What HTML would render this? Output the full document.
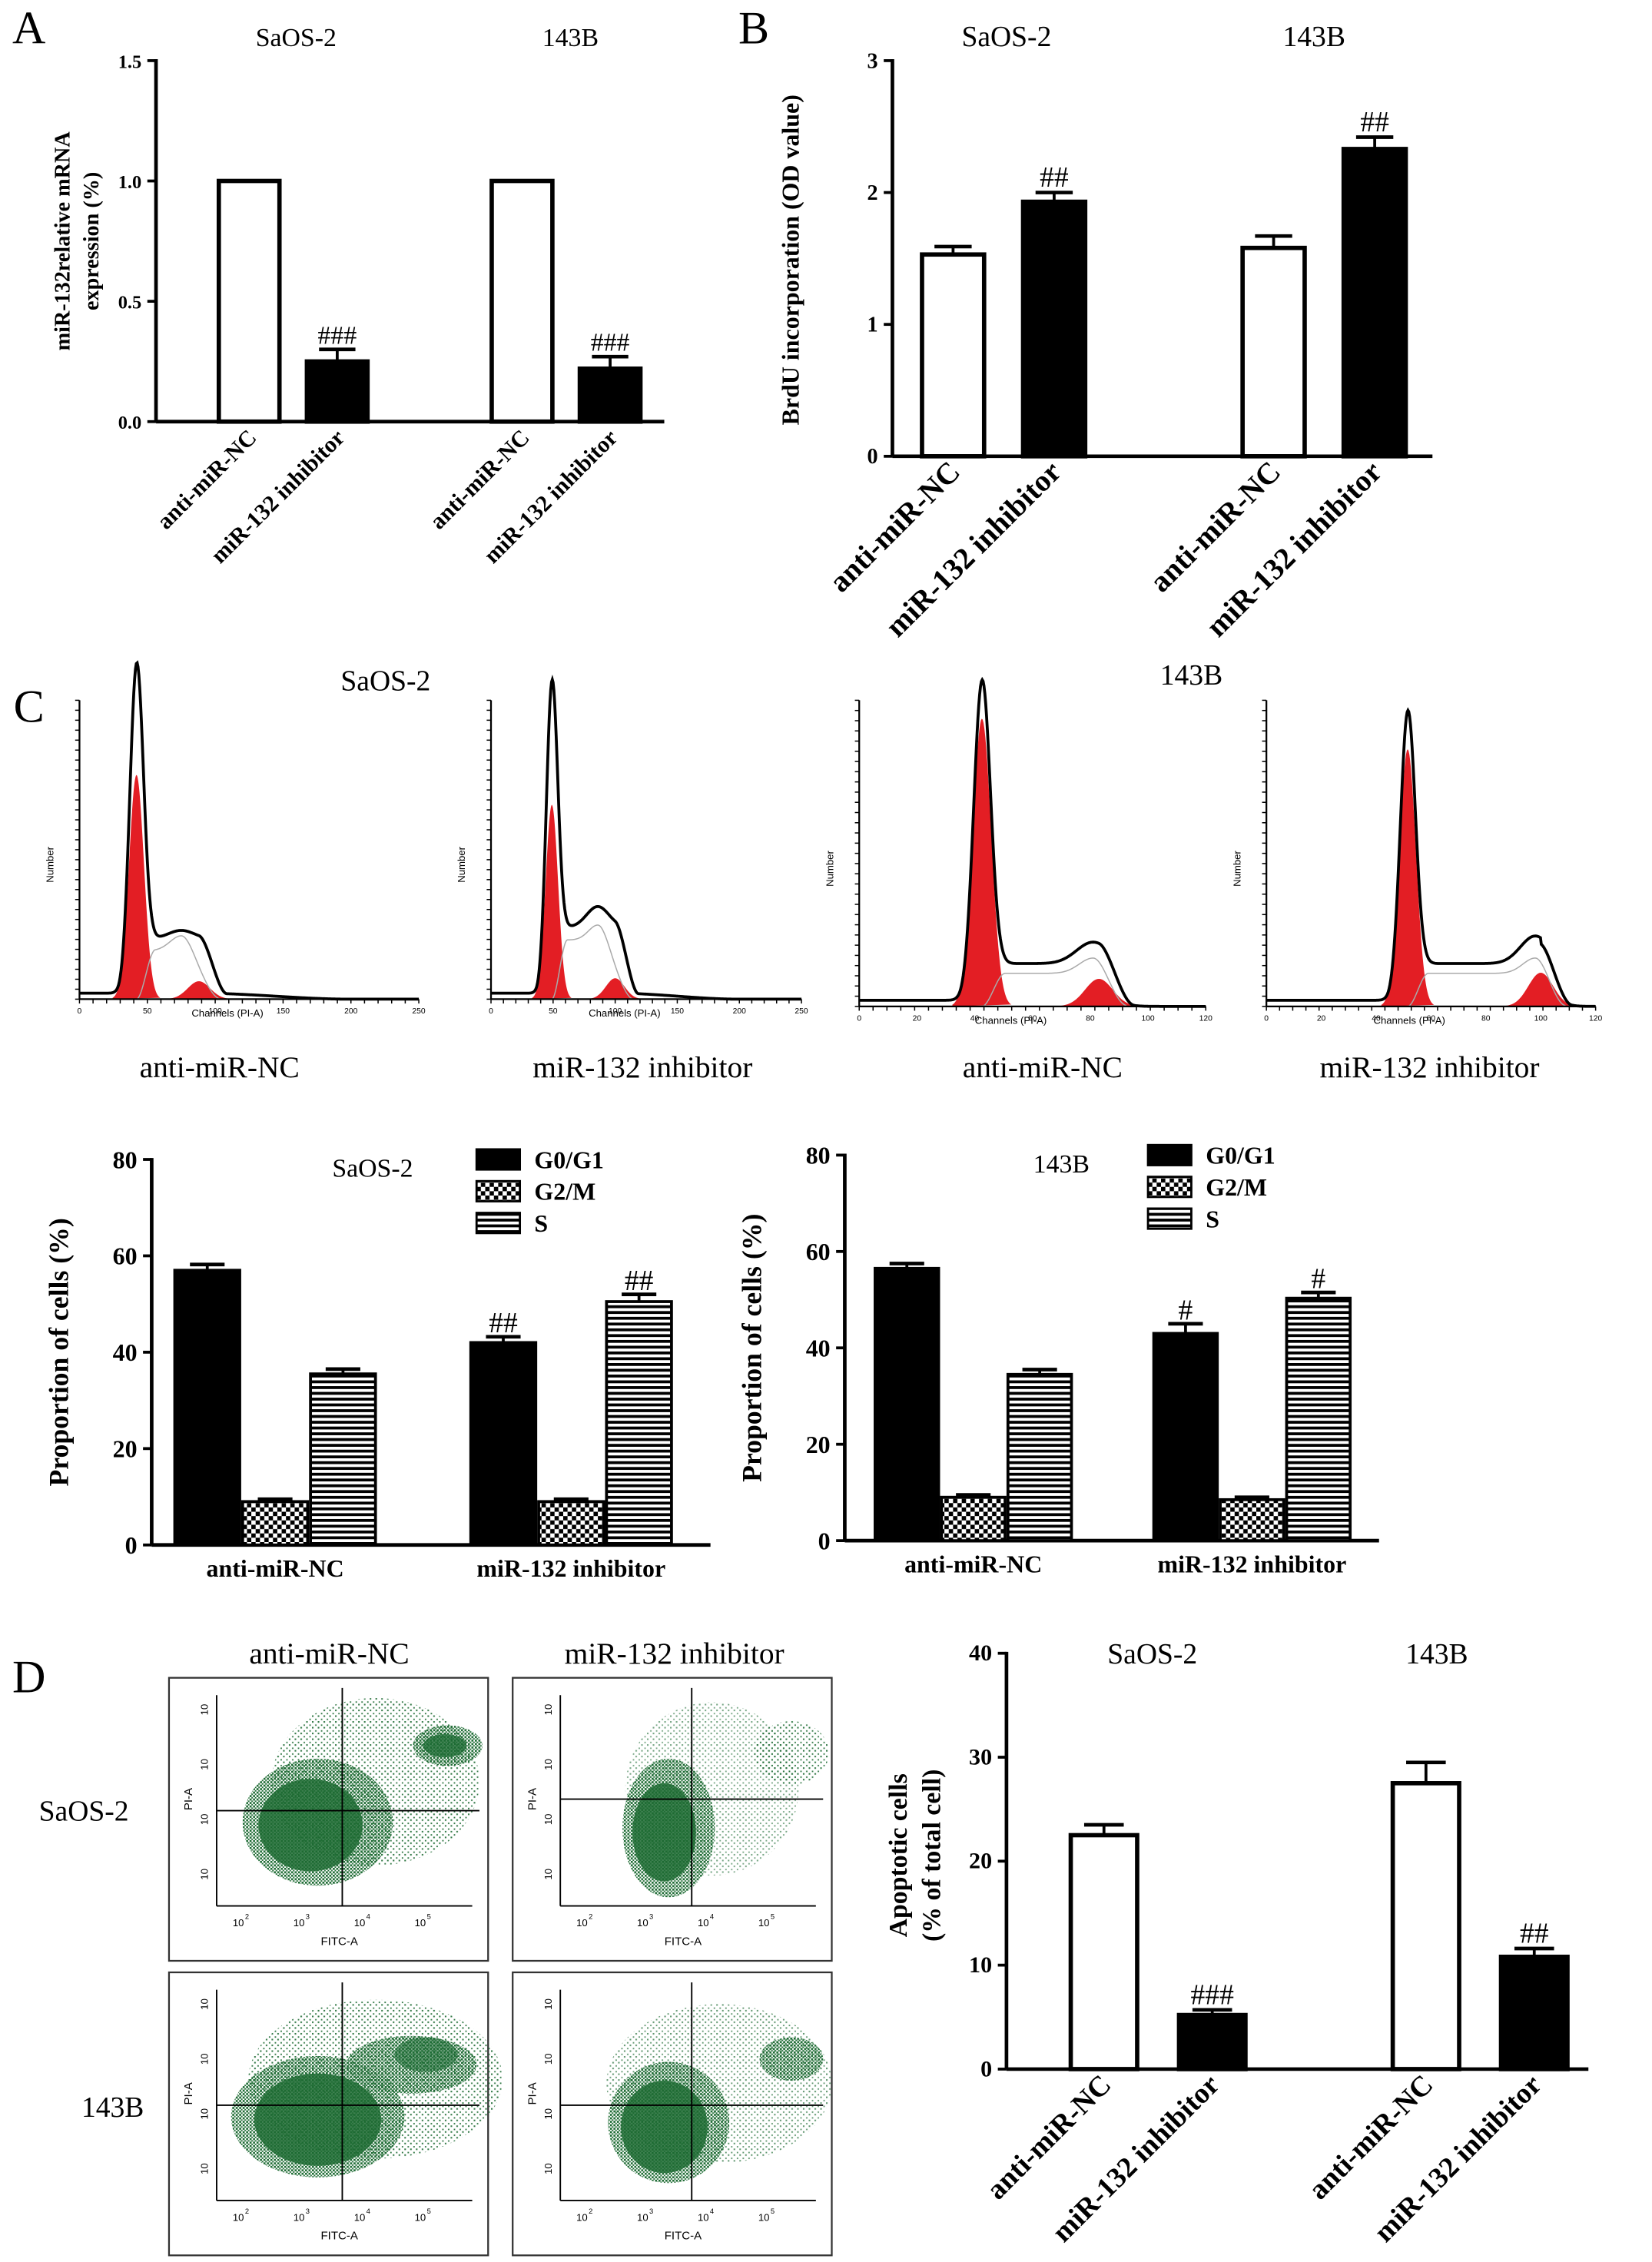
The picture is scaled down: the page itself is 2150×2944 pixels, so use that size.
<!DOCTYPE html>
<html><head><meta charset="utf-8">
<style>
html,body{margin:0;padding:0;background:#fff;}
svg{display:block;}
text{font-family:"Liberation Serif",serif;}
</style></head>
<body>
<svg id="fig" width="2150" height="2944" viewBox="0 0 1144 1566.6" xmlns="http://www.w3.org/2000/svg">
<defs>
<pattern id="dots" width="2.4" height="2.4" patternUnits="userSpaceOnUse"><rect x="0" y="0" width="1.4" height="1.4" fill="#1d6b33"/><rect x="1.3" y="1.4" width="1" height="1" fill="#1d6b33"/></pattern>
<pattern id="dotsSparse" width="4" height="4" patternUnits="userSpaceOnUse"><rect x="0" y="0" width="1.1" height="1.1" fill="#1d6b33"/><rect x="2.2" y="2.3" width="1" height="1" fill="#1d6b33"/></pattern>
<pattern id="check" width="6" height="6" patternUnits="userSpaceOnUse"><rect width="6" height="6" fill="#fff"/><rect width="3" height="3" fill="#000"/><rect x="3" y="3" width="3" height="3" fill="#000"/></pattern>
<pattern id="hstripe" width="6" height="4" patternUnits="userSpaceOnUse"><rect width="6" height="4" fill="#fff"/><rect width="6" height="2" fill="#000"/></pattern>
</defs>
<g id="root"></g>
</svg>
<script>
// ---------- Panel A data ----------
const aCats = ["anti-miR-NC","miR-132 inhibitor","anti-miR-NC","miR-132 inhibitor"];
const aVals = [1.0, 0.25, 1.0, 0.22];
const aErrs = [0, 0.05, 0, 0.05];
const aMarks = ["", "###", "", "###"];
const aTicks = [0, 0.5, 1.0, 1.5];
const aTickLabels = ["0.0","0.5","1.0","1.5"];
// ---------- Panel B data ----------
const bCats = ["anti-miR-NC","miR-132 inhibitor","anti-miR-NC","miR-132 inhibitor"];
const bVals = [1.53, 1.93, 1.58, 2.33];
const bErrs = [0.06, 0.07, 0.09, 0.09];
const bMarks = ["", "##", "", "##"];
const bTicks = [0,1,2,3];
// ---------- Panel C cell-cycle bars ----------
const cGroups = ["anti-miR-NC","miR-132 inhibitor"];
const cPhases = ["G0/G1","G2/M","S"];
const cSaosVals = [[57,9,35.5],[42,9,50.5]];
const cSaosErrs = [[1.2,0.5,1],[1.2,0.5,1.5]];
const cSaosMarks = [["","",""],["##","","##"]];
const c143Vals = [[56.5,9,34.5],[43,8.5,50.3]];
const c143Errs = [[1,0.5,1],[2,0.5,1.2]];
const c143Marks = [["","",""],["#","","#"]];
const cTicks = [0,20,40,60,80];
// ---------- Panel C histograms (channel units, fraction of y max) ----------
const hG1Ch = [42, 49, 42.5, 51.5];
const hG1Sig = [5.5, 5, 3.2, 3];
const hG1Black = [0.96, 0.87, 0.95, 0.85];
const hG1Red = [0.75, 0.65, 0.94, 0.84];
const hHumpCh = [75, 86, 81, 98];
const hHumpH = [0.21, 0.29, 0.19, 0.21];
const hSLevel = [0.18, 0.22, 0.12, 0.12];
const hG2Ch = [88, 100, 83, 100];
const hG2Red = [0.06, 0.07, 0.09, 0.11];
const hChMax = [250, 250, 120, 120];
// ---------- Panel D apoptosis ----------
const dCats = ["anti-miR-NC","miR-132 inhibitor","anti-miR-NC","miR-132 inhibitor"];
const dVals = [22.5, 5.2, 27.5, 10.8];
const dErrs = [1.0, 0.5, 2.0, 0.8];
const dMarks = ["", "###", "", "##"];
const dTicks = [0,10,20,30,40];

const NS = "http://www.w3.org/2000/svg";
const root = document.getElementById("root");
function mk(tag, name, attrs, parent){
  const e = document.createElementNS(NS, tag);
  
  
  for (const k in attrs) e.setAttribute(k, attrs[k]);
  (parent||root).appendChild(e);
  return e;
}
function txt(name, s, x, y, size, opts){
  opts = opts||{};
  const t = mk("text", name, {x:x, y:y, "font-size":size, "text-anchor":opts.anchor||"middle", fill:opts.fill||"#000"}, opts.parent);
  if (opts.bold) t.setAttribute("font-weight","bold");
  if (opts.sans) t.setAttribute("style","font-family:'Liberation Sans',sans-serif");
  if (opts.rot!==undefined) t.setAttribute("transform","rotate("+opts.rot+" "+x+" "+y+")");
  t.textContent = s;
  return t;
}
function line(name,x1,y1,x2,y2,w,c){ return mk("line",name,{x1:x1,y1:y1,x2:x2,y2:y2,stroke:c||"#000","stroke-width":w||2}); }

function simpleChart(cfg){
  const sy = v => cfg.y0 - (v - cfg.ticks[0])/(cfg.ticks[cfg.ticks.length-1]-cfg.ticks[0])*(cfg.y0-cfg.yTop);
  line(cfg.id+"-y-axis", cfg.x0, cfg.yTop-1, cfg.x0, cfg.y0, 2.5);
  line(cfg.id+"-x-axis", cfg.x0, cfg.y0, cfg.xEnd, cfg.y0, 2.5);
  cfg.ticks.forEach((t,i)=>{
    line(cfg.id+"-y-tick", cfg.x0-6, sy(t), cfg.x0, sy(t), 2);
    txt(cfg.id+"-y-tick-label", cfg.tickLabels?cfg.tickLabels[i]:String(t), cfg.x0-10, sy(t)+5, cfg.tickSize, {anchor:"end", bold:true});
  });
  cfg.vals.forEach((v,i)=>{
    const x = cfg.barX[i], w = cfg.barW, top = sy(v);
    const filled = i%2===1;
    mk("rect", cfg.id+"-bar-"+i, {x:x+1.5, y:top, width:w-3, height:cfg.y0-top, fill:filled?"#000":"#fff", stroke:"#000", "stroke-width":3});
    if (cfg.errs[i]>0){
      const ey = sy(v+cfg.errs[i]);
      line(cfg.id+"-error-bar", x+w/2, top, x+w/2, ey, 2);
      line(cfg.id+"-error-cap", x+w/2-w*0.28, ey, x+w/2+w*0.28, ey, 2.5);
    }
    if (cfg.marks[i]) txt(cfg.id+"-significance", cfg.marks[i], x+w/2, sy(v+cfg.errs[i])-4, cfg.markSize);
    const cx = x+w/2+6, cy = cfg.y0+12;
    txt(cfg.id+"-x-label", cfg.cats[i], cx, cy, cfg.labSize, {anchor:"end", bold:true, rot:-45});
  });
  cfg.titles.forEach(t=> txt(cfg.id+"-title", t[0], t[1], t[2], cfg.titleSize));
  cfg.ylab.forEach(l=> txt(cfg.id+"-y-axis-title", l[0], l[1], l[2], cfg.ylabSize, {bold:true, rot:-90}));
}

txt("panel-label-a","A",20,30,32,{});
txt("panel-label-b","B",522,30,32,{});
txt("panel-label-c","C",20,500,32,{});
txt("panel-label-d","D",20,1172,32,{});

simpleChart({id:"panel-a", x0:108, y0:292, yTop:42, xEnd:460, ticks:aTicks, tickLabels:aTickLabels, vals:aVals, errs:aErrs, marks:aMarks, cats:aCats,
  barX:[150,211,339,400], barW:45, tickSize:13, markSize:18, labSize:16, titleSize:18,
  titles:[["SaOS-2",205,32],["143B",395,32]], ylab:[["miR-132relative mRNA",48,167],["expression (%)",68,167]], ylabSize:15});
simpleChart({id:"panel-b", x0:618, y0:316, yTop:42, xEnd:992, ticks:bTicks, vals:bVals, errs:bErrs, marks:bMarks, cats:bCats,
  barX:[637,707,859,929], barW:46, tickSize:15, markSize:20, labSize:21, titleSize:20,
  titles:[["SaOS-2",697,32],["143B",910,32]], ylab:[["BrdU incorporation (OD value)",553,180]], ylabSize:17});
simpleChart({id:"panel-d", x0:697, y0:1433, yTop:1145, xEnd:1100, ticks:dTicks, vals:dVals, errs:dErrs, marks:dMarks, cats:dCats,
  barX:[740,815,963,1038], barW:49, tickSize:16, markSize:20, labSize:20, titleSize:20,
  titles:[["SaOS-2",798,1152],["143B",995,1152]], ylab:[["Apoptotic cells",628,1285],["(% of total cell)",651,1285]], ylabSize:18});

// ---------- histograms ----------
const hBoxes = [[55,290,692,485],[340,555,692,485],[595,835,697,485],[877,1105,697,485]];
function gauss(x,m,s){ return Math.exp(-0.5*((x-m)/s)*((x-m)/s)); }
function smoothStep(x,a,b){ if(x<=a) return 0; if(x>=b) return 1; const t=(x-a)/(b-a); return t*t*(3-2*t); }
hBoxes.forEach((b,i)=>{
  const [x0,x1,base,top] = b;
  const sx = c => x0 + c/hChMax[i]*(x1-x0);
  const sy = f => base - f*(base-top);
  const g2s = hG1Sig[i]*1.5;
  const black = c => hG1Black[i]*gauss(c,hG1Ch[i],hG1Sig[i]*0.9)
     + hSLevel[i]*smoothStep(c,hG1Ch[i]-hG1Sig[i]*2.5,hG1Ch[i]+hG1Sig[i])*(1-smoothStep(c,hG2Ch[i],hG2Ch[i]+g2s*2.5))
     + (hHumpH[i]-hSLevel[i])*gauss(c,hHumpCh[i],g2s*1.2)
     + 0.02*(1-smoothStep(c,hG2Ch[i],hChMax[i]*0.8));
  const g = mk("g","histogram-"+(i+1),{});
  let p1="M"+sx(hG1Ch[i]-hG1Sig[i]*3.2)+","+base, p2="M"+sx(hG2Ch[i]-g2s*3)+","+base;
  for(let c=hG1Ch[i]-hG1Sig[i]*3.2;c<=hG1Ch[i]+hG1Sig[i]*3.2;c+=0.3) p1+=" L"+sx(c).toFixed(2)+","+sy(hG1Red[i]*gauss(c,hG1Ch[i],hG1Sig[i])).toFixed(2);
  for(let c=hG2Ch[i]-g2s*3;c<=hG2Ch[i]+g2s*3;c+=0.5) p2+=" L"+sx(c).toFixed(2)+","+sy(hG2Red[i]*gauss(c,hG2Ch[i],g2s)).toFixed(2);
  mk("path","g1-peak-fill",{d:p1+" Z",fill:"#e31e24"},g);
  mk("path","g2-peak-fill",{d:p2+" Z",fill:"#e31e24"},g);
  let ps="M"+sx(hG1Ch[i])+","+base;
  for(let c=hG1Ch[i];c<=hG2Ch[i]+g2s*2;c+=0.5) ps+=" L"+sx(c).toFixed(2)+","+sy(hSLevel[i]*0.9*smoothStep(c,hG1Ch[i],hG1Ch[i]+hG1Sig[i]*2.5)*(1-smoothStep(c,hHumpCh[i],hG2Ch[i]+g2s*2))+0.05*gauss(c,hHumpCh[i],g2s)).toFixed(2);
  mk("path","s-phase-model",{d:ps,fill:"none",stroke:"#aaa","stroke-width":0.8},g);
  let pb="";
  for(let c=0;c<=hChMax[i];c+=hChMax[i]/400){ pb+=(pb?" L":"M")+sx(c).toFixed(2)+","+sy(black(c)).toFixed(2); }
  mk("path","histogram-line",{d:pb,fill:"none",stroke:"#000","stroke-width":2},g);
  mk("line","histogram-y-axis",{x1:x0,y1:top,x2:x0,y2:base,stroke:"#000","stroke-width":1.2},g);
  mk("line","histogram-x-axis",{x1:x0,y1:base,x2:x1,y2:base,stroke:"#000","stroke-width":1.2},g);
  for(let k=0;k<=25;k++){ mk("line","x-minor-tick",{x1:x0+k*(x1-x0)/25,y1:base,x2:x0+k*(x1-x0)/25,y2:base+3,stroke:"#000","stroke-width":0.8},g); }
  for(let k=0;k<=30;k++){ mk("line","y-minor-tick",{x1:x0-3,y1:base-k*(base-top)/30,x2:x0,y2:base-k*(base-top)/30,stroke:"#000","stroke-width":0.8},g); }
  txt("histogram-x-title","Channels (PI-A)",(x0+x1)/2-15,base+12,7,{sans:true});
  txt("histogram-y-title","Number",x0-18,base-(base-top)*0.45,7,{sans:true,rot:-90});
  const step = hChMax[i]===250?50:20;
  for(let c=0;c<=hChMax[i];c+=step) txt("histogram-x-tick-label",String(c),sx(c),base+10,5.5,{sans:true});
});
txt("hist-title-saos2","SaOS-2",267,478,20);
txt("hist-title-143b","143B",825,474,20);
txt("hist-label-1","anti-miR-NC",152,746,21);
txt("hist-label-2","miR-132 inhibitor",445,746,21);
txt("hist-label-3","anti-miR-NC",722,746,21);
txt("hist-label-4","miR-132 inhibitor",990,746,21);

// ---------- grouped bar charts ----------
const phaseFill = ["#000","url(#check)","url(#hstripe)"];
function groupedChart(cfg){
  const sy = v => cfg.y0 - v/80*(cfg.y0-cfg.yTop);
  line(cfg.id+"-y-axis", cfg.x0, cfg.yTop-1, cfg.x0, cfg.y0, 2.5);
  line(cfg.id+"-x-axis", cfg.x0, cfg.y0, cfg.xEnd, cfg.y0, 2.5);
  cTicks.forEach(t=>{
    line(cfg.id+"-y-tick", cfg.x0-6, sy(t), cfg.x0, sy(t), 2);
    txt(cfg.id+"-y-tick-label", String(t), cfg.x0-10, sy(t)+6, 17, {anchor:"end", bold:true});
  });
  cGroups.forEach((gname,gi)=>{
    cPhases.forEach((ph,pi)=>{
      const v = cfg.vals[gi][pi], x = cfg.gx[gi]+pi*cfg.bw, top = sy(v);
      mk("rect", cfg.id+"-bar-"+ph, {x:x+1, y:top, width:cfg.bw-2, height:cfg.y0-top, fill:phaseFill[pi], stroke:"#000", "stroke-width":2});
      const ey = sy(v+cfg.errs[gi][pi]);
      line(cfg.id+"-error-bar", x+cfg.bw/2, top, x+cfg.bw/2, ey, 2);
      line(cfg.id+"-error-cap", x+cfg.bw/2-12, ey, x+cfg.bw/2+12, ey, 2.5);
      if (cfg.marks[gi][pi]) txt(cfg.id+"-significance", cfg.marks[gi][pi], x+cfg.bw/2, ey-3, 20);
    });
    txt(cfg.id+"-x-label", gname, cfg.gx[gi]+cfg.bw*1.5, cfg.y0+22, 17, {bold:true});
  });
  txt(cfg.id+"-title", cfg.title, cfg.titleX, cfg.yTop+12, 18);
  cPhases.forEach((ph,pi)=>{
    mk("rect", cfg.id+"-legend-swatch", {x:cfg.lx, y:cfg.yTop-7+pi*22, width:30, height:14, fill:phaseFill[pi], stroke:"#000","stroke-width":1.5});
    txt(cfg.id+"-legend-label", ph, cfg.lx+40, cfg.yTop+6+pi*22, 17, {anchor:"start", bold:true});
  });
  txt(cfg.id+"-y-axis-title","Proportion of cells (%)", cfg.x0-58, (cfg.y0+cfg.yTop)/2, 19, {bold:true, rot:-90});
}
groupedChart({id:"cycle-saos2", x0:105, y0:1070, yTop:803, xEnd:492, vals:cSaosVals, errs:cSaosErrs, marks:cSaosMarks, gx:[120,325], bw:47, title:"SaOS-2", titleX:258, lx:330});
groupedChart({id:"cycle-143b", x0:585, y0:1067, yTop:800, xEnd:955, vals:c143Vals, errs:c143Errs, marks:c143Marks, gx:[605,798], bw:46, title:"143B", titleX:735, lx:795});

// ---------- flow scatter panels ----------
txt("scatter-col-title-1","anti-miR-NC",228,1152,21);
txt("scatter-col-title-2","miR-132 inhibitor",467,1152,21);
txt("scatter-row-title-1","SaOS-2",58,1261,20);
txt("scatter-row-title-2","143B",78,1466,20);
const sBoxes = [[117,1162],[355,1162],[117,1366],[355,1366]];
// populations: [cx offset, cy offset, rx, ry, fill, opacity]
const blobSets = [
  [[110,60,72,58,"dotsSparse",0.9],[70,88,52,44,"dots",1],[160,35,24,14,"dots",1],[65,90,36,32,"#1d6b33",0.85],[158,35,15,8,"#1d6b33",0.8]],
  [[105,65,60,60,"dotsSparse",0.6],[75,92,32,48,"dots",1],[160,40,26,22,"dotsSparse",0.9],[72,95,22,34,"#1d6b33",0.85]],
  [[110,62,88,55,"dotsSparse",0.9],[70,88,60,42,"dots",1],[135,52,45,20,"dots",1],[70,90,44,32,"#1d6b33",0.85],[145,45,22,12,"#1d6b33",0.6]],
  [[110,65,78,55,"dotsSparse",0.7],[75,92,42,42,"dots",1],[160,48,22,15,"dots",1],[72,95,30,32,"#1d6b33",0.85]]
];
sBoxes.forEach((b,i)=>{
  const [bx,by] = b;
  const g = mk("g","scatter-plot-"+(i+1),{});
  mk("rect","scatter-frame",{x:bx,y:by,width:221,height:196,fill:"#fff",stroke:"#333","stroke-width":1.2},g);
  const px0=bx+33, py0=by+12, px1=bx+210, py1=by+158;
  blobSets[i].forEach(bl=>{
    const f = bl[4].charAt(0)==="#" ? bl[4] : "url(#"+bl[4]+")";
    mk("ellipse","cell-population",{cx:px0+bl[0],cy:py0+bl[1],rx:bl[2],ry:bl[3],fill:f,opacity:bl[5]},g);
  });
  mk("line","scatter-y-axis",{x1:px0,y1:py0,x2:px0,y2:py1,stroke:"#000","stroke-width":1},g);
  mk("line","scatter-x-axis",{x1:px0,y1:py1,x2:px1,y2:py1,stroke:"#000","stroke-width":1},g);
  const cx = (i%2===0)? bx+120 : bx+124, cy = (i===1)? by+84 : by+92;
  mk("line","quadrant-vertical",{x1:cx,y1:py0-5,x2:cx,y2:py1,stroke:"#000","stroke-width":1},g);
  mk("line","quadrant-horizontal",{x1:px0,y1:cy,x2:px1+5,y2:cy,stroke:"#000","stroke-width":1},g);
  ["2","3","4","5"].forEach((e,k)=>{
    const tx = bx+48+k*42;
    txt("scatter-x-tick-label","10",tx,py1+14,7,{sans:true});
    txt("scatter-x-tick-exp",e,tx+6,py1+9,5,{sans:true});
    const ty = py1-22-k*38;
    txt("scatter-y-tick-label","10",px0-6,ty,7,{sans:true,rot:-90});
  });
  txt("scatter-x-title","FITC-A",bx+118,by+185,8,{sans:true});
  txt("scatter-y-title","PI-A",bx+16,by+84,8,{sans:true,rot:-90});
});
</script>
</body></html>
